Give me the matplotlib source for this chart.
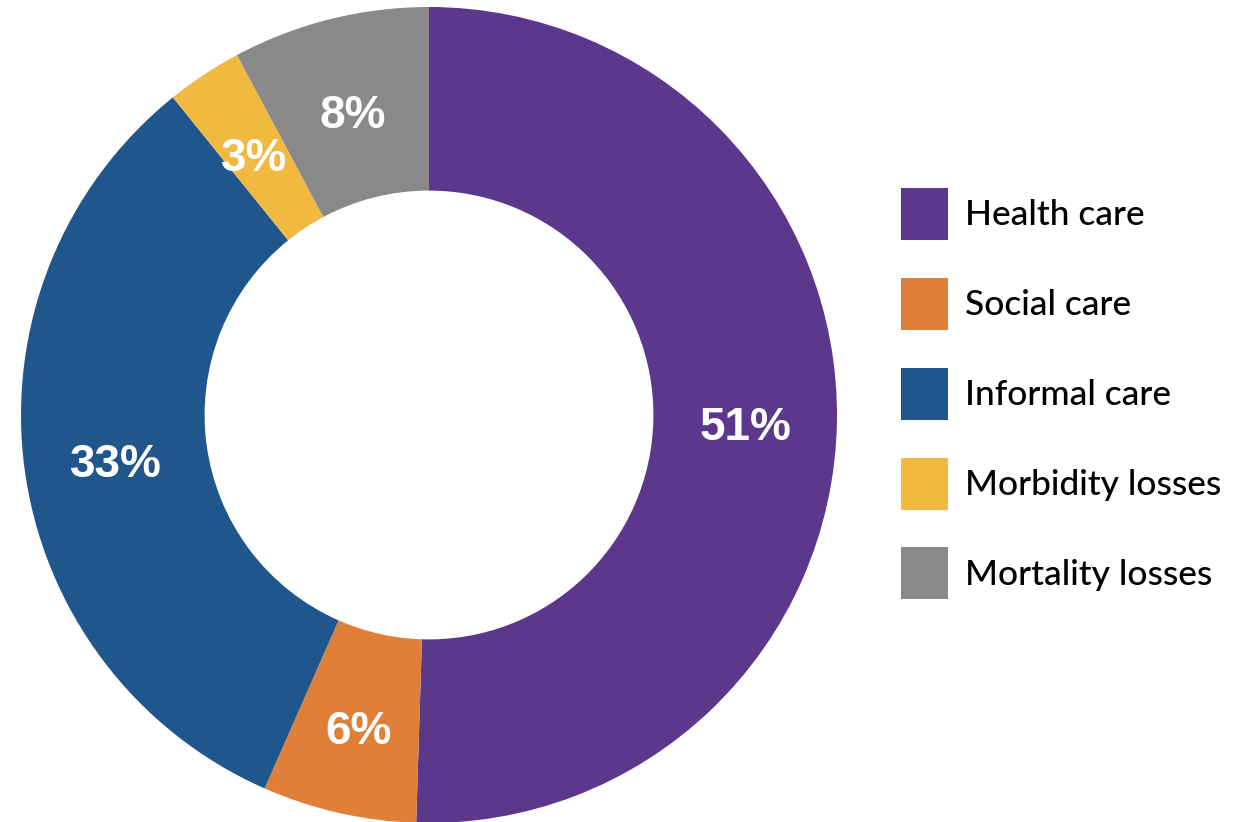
import matplotlib.pyplot as plt

kategorie = ["Health care", "Social care", "Informal care", "Morbidity losses", "Mortality losses"]
udzialy = [50.5, 6.1, 32.6, 3.0, 7.8]
etykiety = ["51%", "6%", "33%", "3%", "8%"]
kolory = ["#5b388c", "#e07f38", "#1f568c", "#f2b940", "#898989"]

fig = plt.figure(figsize=(12.36, 8.22), dpi=100)
ax = fig.add_axes([21 / 1236, -1 / 822, 816 / 1236, 816 / 822])

it = iter(etykiety)
wedges, _, teksty = ax.pie(udzialy, colors=kolory, startangle=90, counterclock=False,
                           radius=1, wedgeprops=dict(width=0.45, linewidth=0),
                           autopct=lambda p: next(it), pctdistance=0.775,
                           textprops=dict(color="white", fontsize=33, fontweight="bold",
                                          family="Liberation Sans"))
# lekkie przesuniecie w dol, jak w oryginale
for t in teksty:
    x, y = t.get_position()
    t.set_position((x, y - 0.02))

ax.set_xlim(-1, 1)
ax.set_ylim(-1, 1)
ax.set_aspect("equal")
ax.axis("off")

leg = fig.legend(wedges, kategorie, loc="upper left",
                 bbox_to_anchor=(901 / 1236, 1 - 188 / 822),
                 frameon=False, borderpad=0, borderaxespad=0,
                 handlelength=1.32, handleheight=1.88, handletextpad=0.48,
                 labelspacing=1.07, prop=dict(family="Lato", size=25.5, weight="medium"))

fig.savefig("out.png", dpi=100)
